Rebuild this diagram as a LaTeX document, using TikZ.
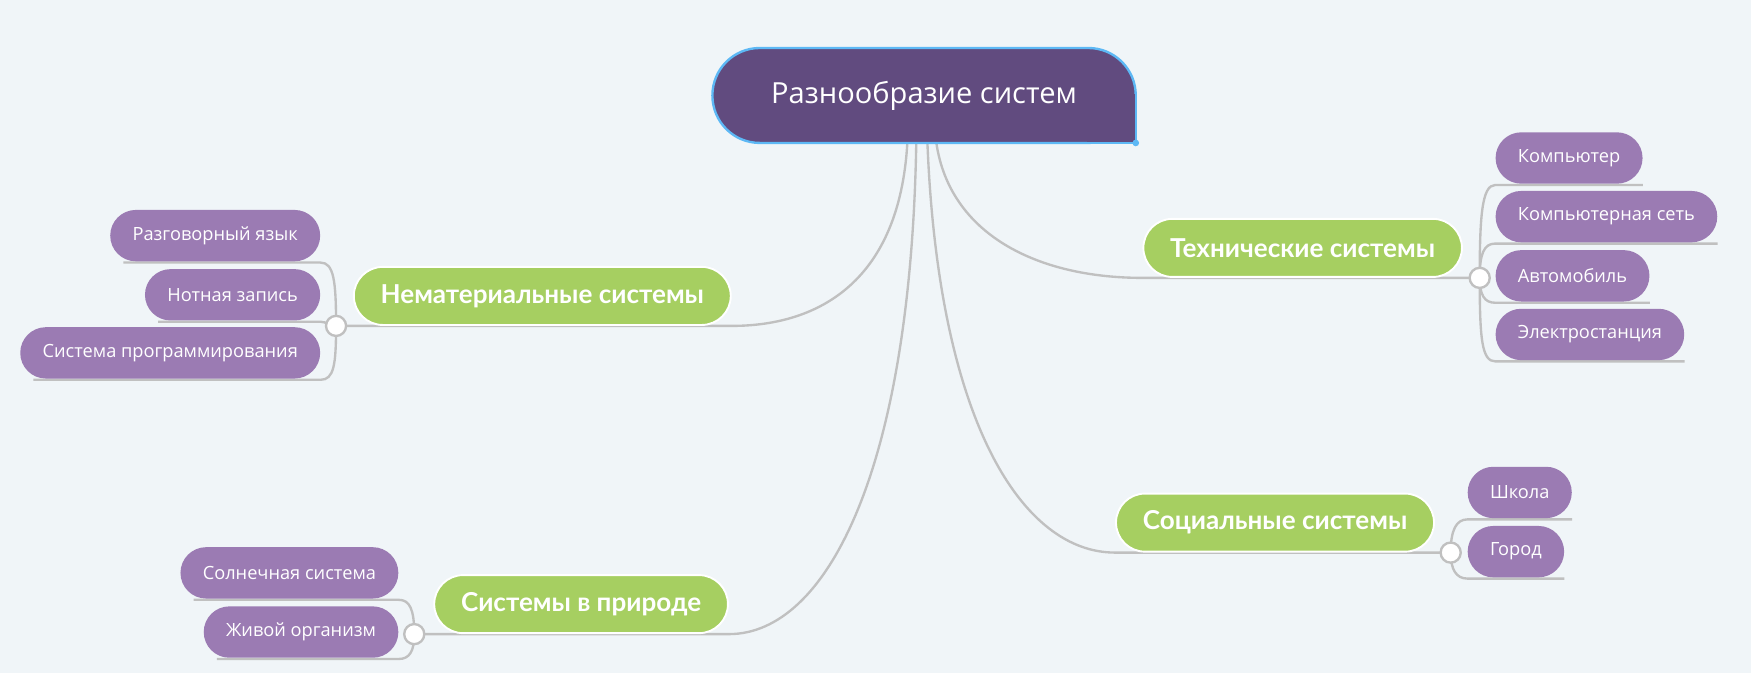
\documentclass[tikz,border=0pt]{standalone}
\usepackage{fontspec}
\setmainfont{Open Sans}
\newfontfamily\branchfont{Lato}
\usetikzlibrary{positioning,backgrounds}

\definecolor{bgpaper}{HTML}{F0F5F8}
\definecolor{rootfill}{HTML}{614B7F}
\definecolor{rootline}{HTML}{5DB8F5}
\definecolor{branchgreen}{HTML}{A6CF61}
\definecolor{leafpurple}{HTML}{9B7BB3}
\definecolor{wiregray}{HTML}{C0C0C0}

\tikzset{
  root/.style={fill=rootfill, draw=rootline, line width=1.5pt, outer sep=0pt, rounded corners=1.06cm,
    minimum width=9.475cm, minimum height=2.125cm, text=white, font=\fontsize{18.5}{22}\selectfont},
  branch/.style={fill=branchgreen, draw=white, line width=1.2pt, rounded corners=0.65cm,
    minimum height=1.3cm, inner xsep=0.6cm, text=white, font=\branchfont\bfseries\fontsize{16.6}{19}\selectfont},
  leaf/.style={fill=leafpurple, rounded corners=0.575cm, minimum height=1.15cm, inner xsep=0.5cm,
    outer ysep=0.8pt, text=white, font=\fontsize{11.6}{14}\selectfont},
  knob/.style={circle, fill=white, draw=wiregray, line width=1.5pt, minimum size=0.45cm, inner sep=0pt},
  link/.style={draw=wiregray, line width=1.5pt},
}

\begin{document}
\begin{tikzpicture}[x=0.025cm, y=0.025cm]
    \begin{pgfonlayer}{background}
        \fill[bgpaper] (0,0) rectangle (1568,603);
    \end{pgfonlayer}
    \useasboundingbox (0,0) rectangle (1568,603);

    % Root
    \node[root] (root) at (827.5,517.5) {Разнообразие систем};
    \fill[rootfill] ([shift={(-44,44)}]root.south east) rectangle (root.south east);
    \draw[rootline, line width=1.5pt] ([shift={(0,44)}]root.south east) -- (root.south east) -- ([shift={(-44,0)}]root.south east);
    \fill[rootline] (root.south east) circle (3);

    % Branches
    \node[branch, anchor=west] (immaterial) at (316,338) {Нематериальные системы};
    \node[branch, anchor=east] (technical) at (1310,381) {Технические системы};
    \node[branch, anchor=east] (social) at (1285,135) {Социальные системы};
    \node[branch, anchor=west] (nature) at (388,62) {Системы в природе};

    \node[knob, left=0.125cm of immaterial.south west] (immaterialknob) {};
    \node[knob, right=0.125cm of technical.south east] (technicalknob) {};
    \node[knob, right=0.1cm of social.south east] (socialknob) {};
    \node[knob, left=0.175cm of nature.south west] (natureknob) {};

    % Leaves
    \node[leaf, anchor=east] (speech) at (287,392) {Разговорный язык};
    \node[leaf, anchor=east] (notation) at (287,339) {Нотная запись};
    \node[leaf, anchor=east] (coding) at (287,287) {Система программирования};
    \node[leaf, anchor=west] (computer) at (1339,461.5) {Компьютер};
    \node[leaf, anchor=west] (network) at (1339,409) {Компьютерная сеть};
    \node[leaf, anchor=west] (car) at (1339,356) {Автомобиль};
    \node[leaf, anchor=west] (plant) at (1339,303.5) {Электростанция};
    \node[leaf, anchor=west] (school) at (1314,162) {Школа};
    \node[leaf, anchor=west] (city) at (1314,109) {Город};
    \node[leaf, anchor=east] (solar) at (357,90) {Солнечная система};
    \node[leaf, anchor=east] (organism) at (357,37) {Живой организм};

    \begin{pgfonlayer}{background}
        % root -> branches
        \draw[link] ([shift={(-15,0)}]root.south) .. controls +(-7,-122) and +(80,0) .. (immaterial.south east) -- (immaterialknob.center);
        \draw[link] ([shift={(-7,0)}]root.south) .. controls +(-5,-292) and +(88,0) .. (nature.south east) -- (natureknob.center);
        \draw[link] ([shift={(3,0)}]root.south) .. controls +(10,-252) and +(-82,0) .. (social.south west) -- (socialknob.center);
        \draw[link] ([shift={(11,0)}]root.south) .. controls +(12,-82) and +(-94,0) .. (technical.south west) -- (technicalknob.center);

        % branches -> leaves
        \draw[link] (immaterialknob.center) .. controls +(0,40) and +(12,0) .. (speech.south east) -- ([shift={(12,0)}]speech.south west);
        \draw[link] (immaterialknob.center) .. controls +(-8,0) and +(6,0) .. (notation.south east) -- ([shift={(12,0)}]notation.south west);
        \draw[link] (immaterialknob.center) .. controls +(0,-35) and +(12,0) .. (coding.south east) -- ([shift={(12,0)}]coding.south west);
        \draw[link] (technicalknob.center) .. controls +(0,55) and +(-12,0) .. (computer.south west) -- (computer.south east);
        \draw[link] (technicalknob.center) .. controls +(0,22) and +(-10,0) .. (network.south west) -- (network.south east);
        \draw[link] (technicalknob.center) .. controls +(0,-15) and +(-10,0) .. (car.south west) -- (car.south east);
        \draw[link] (technicalknob.center) .. controls +(0,-55) and +(-12,0) .. (plant.south west) -- (plant.south east);
        \draw[link] (socialknob.center) .. controls +(0,20) and +(-10,0) .. (school.south west) -- (school.south east);
        \draw[link] (socialknob.center) .. controls +(0,-15) and +(-10,0) .. (city.south west) -- (city.south east);
        \draw[link] (natureknob.center) .. controls +(0,22) and +(10,0) .. (solar.south east) -- ([shift={(12,0)}]solar.south west);
        \draw[link] (natureknob.center) .. controls +(0,-15) and +(10,0) .. (organism.south east) -- ([shift={(12,0)}]organism.south west);
    \end{pgfonlayer}
\end{tikzpicture}
\end{document}
